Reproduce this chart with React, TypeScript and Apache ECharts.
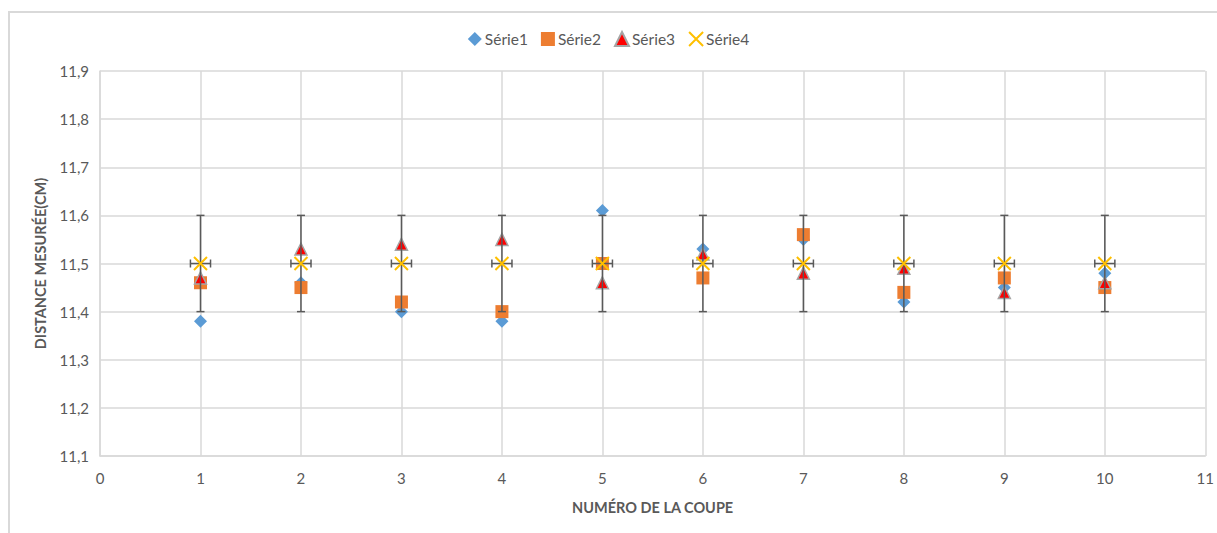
import React, { useEffect, useRef } from "react";
import * as echarts from "echarts";

// Numéro de la coupe
const coupes = [1, 2, 3, 4, 5, 6, 7, 8, 9, 10];
// Distances mesurées (cm)
const serie1 = [11.38, 11.46, 11.4, 11.38, 11.61, 11.53, 11.55, 11.42, 11.45, 11.48];
const serie2 = [11.46, 11.45, 11.42, 11.4, 11.5, 11.47, 11.56, 11.44, 11.47, 11.45];
const serie3 = [11.47, 11.53, 11.54, 11.55, 11.46, 11.52, 11.48, 11.49, 11.44, 11.46];
const serie4 = [11.5, 11.5, 11.5, 11.5, 11.5, 11.5, 11.5, 11.5, 11.5, 11.5];
// Barres d'erreur de la série 4
const erreurX = [0.1, 0.1, 0.1, 0.1, 0.1, 0.1, 0.1, 0.1, 0.1, 0.1];
const erreurY = [0.1, 0.1, 0.1, 0.1, 0.1, 0.1, 0.1, 0.1, 0.1, 0.1];
const seriesNames = ["Série1", "Série2", "Série3", "Série4"];

const FONT = "Lato, 'Open Sans', sans-serif";
const CROSS = "path://M0,0L10,10M10,0L0,10";

export default function App() {
  const ref = useRef<HTMLDivElement>(null);

  useEffect(() => {
    if (!ref.current) return;
    const chart = echarts.init(ref.current, undefined, { renderer: "svg" });

    const pts = (vals: number[]) => coupes.map((x, i) => [x, vals[i]]);

    const errorBars = (params: any, api: any) => {
      const x = api.value(0);
      const y = api.value(1);
      const ex = api.value(2);
      const ey = api.value(3);
      const top = api.coord([x, y + ey]);
      const bot = api.coord([x, y - ey]);
      const left = api.coord([x - ex, y]);
      const right = api.coord([x + ex, y]);
      const cap = 4;
      const style = { stroke: "#595959", lineWidth: 1.5 };
      const seg = (x1: number, y1: number, x2: number, y2: number) => ({
        type: "line",
        shape: { x1, y1, x2, y2 },
        style,
      });
      return {
        type: "group",
        children: [
          seg(top[0], top[1], bot[0], bot[1]),
          seg(top[0] - cap, top[1], top[0] + cap, top[1]),
          seg(bot[0] - cap, bot[1], bot[0] + cap, bot[1]),
          seg(left[0], left[1], right[0], right[1]),
          seg(left[0], left[1] - cap, left[0], left[1] + cap),
          seg(right[0], right[1] - cap, right[0], right[1] + cap),
        ],
      };
    };

    chart.setOption({
      animation: false,
      backgroundColor: "#ffffff",
      graphic: [
        {
          type: "rect",
          shape: { x: 9, y: 12, width: 1240, height: 560 },
          style: { fill: "none", stroke: "#D9D9D9", lineWidth: 2 },
          silent: true,
        },
      ],
      legend: {
        data: seriesNames,
        top: 26,
        left: "center",
        itemGap: 13,
        itemWidth: 14,
        itemHeight: 14,
        textStyle: { fontFamily: FONT, fontSize: 15.5, color: "#595959", padding: [0, 0, 0, -2] },
      },
      grid: { left: 100, right: 10, top: 71, bottom: 77, containLabel: false },
      xAxis: {
        type: "value",
        min: 0,
        max: 11,
        interval: 1,
        name: "NUMÉRO DE LA COUPE",
        nameLocation: "middle",
        nameGap: 44,
        nameTextStyle: { fontFamily: FONT, fontSize: 14.5, fontWeight: "bold", color: "#595959" },
        axisLine: { show: true, lineStyle: { color: "#D9D9D9", width: 1.5 } },
        axisTick: { show: false },
        axisLabel: { fontFamily: FONT, fontSize: 15, color: "#595959", margin: 14 },
        splitLine: { show: true, lineStyle: { color: "#D9D9D9", width: 1.5 } },
      },
      yAxis: {
        type: "value",
        min: 11.1,
        max: 11.9,
        interval: 0.1,
        name: "DISTANCE MESURÉE(CM)",
        nameLocation: "middle",
        nameGap: 52,
        nameTextStyle: { fontFamily: FONT, fontSize: 14.5, fontWeight: "bold", color: "#595959" },
        axisLine: { show: true, lineStyle: { color: "#D9D9D9", width: 1.5 } },
        axisTick: { show: false },
        axisLabel: {
          fontFamily: FONT,
          fontSize: 15,
          color: "#595959",
          margin: 11,
          formatter: (v: number) => v.toFixed(1).replace(".", ","),
        },
        splitLine: { show: true, lineStyle: { color: "#D9D9D9", width: 1.5 } },
      },
      series: [
        {
          name: "Série1",
          type: "scatter",
          symbol: "diamond",
          symbolSize: 13,
          itemStyle: { color: "#5B9BD5", opacity: 1 },
          data: pts(serie1),
          z: 2,
        },
        {
          name: "Série2",
          type: "scatter",
          symbol: "rect",
          symbolSize: 13,
          itemStyle: { color: "#ED7D31", opacity: 1 },
          data: pts(serie2),
          z: 3,
        },
        {
          name: "Série3",
          type: "scatter",
          symbol: "triangle",
          symbolSize: 12,
          itemStyle: { color: "#FF0000", borderColor: "#A5A5A5", borderWidth: 1.5, opacity: 1 },
          data: pts(serie3),
          z: 4,
        },
        {
          type: "custom",
          renderItem: errorBars,
          encode: { x: 0, y: 1 },
          data: coupes.map((x, i) => [x, serie4[i], erreurX[i], erreurY[i]]),
          z: 5,
          silent: true,
        },
        {
          name: "Série4",
          type: "scatter",
          symbol: CROSS,
          symbolSize: 13,
          itemStyle: { color: "#FFC000", borderColor: "#FFC000", borderWidth: 2, opacity: 1 },
          data: pts(serie4),
          z: 6,
        },
      ],
    });

    return () => chart.dispose();
  }, []);

  return (
    <div
      ref={ref}
      style={{ position: "fixed", left: 0, top: 0, width: 1217, height: 533 }}
    />
  );
}
